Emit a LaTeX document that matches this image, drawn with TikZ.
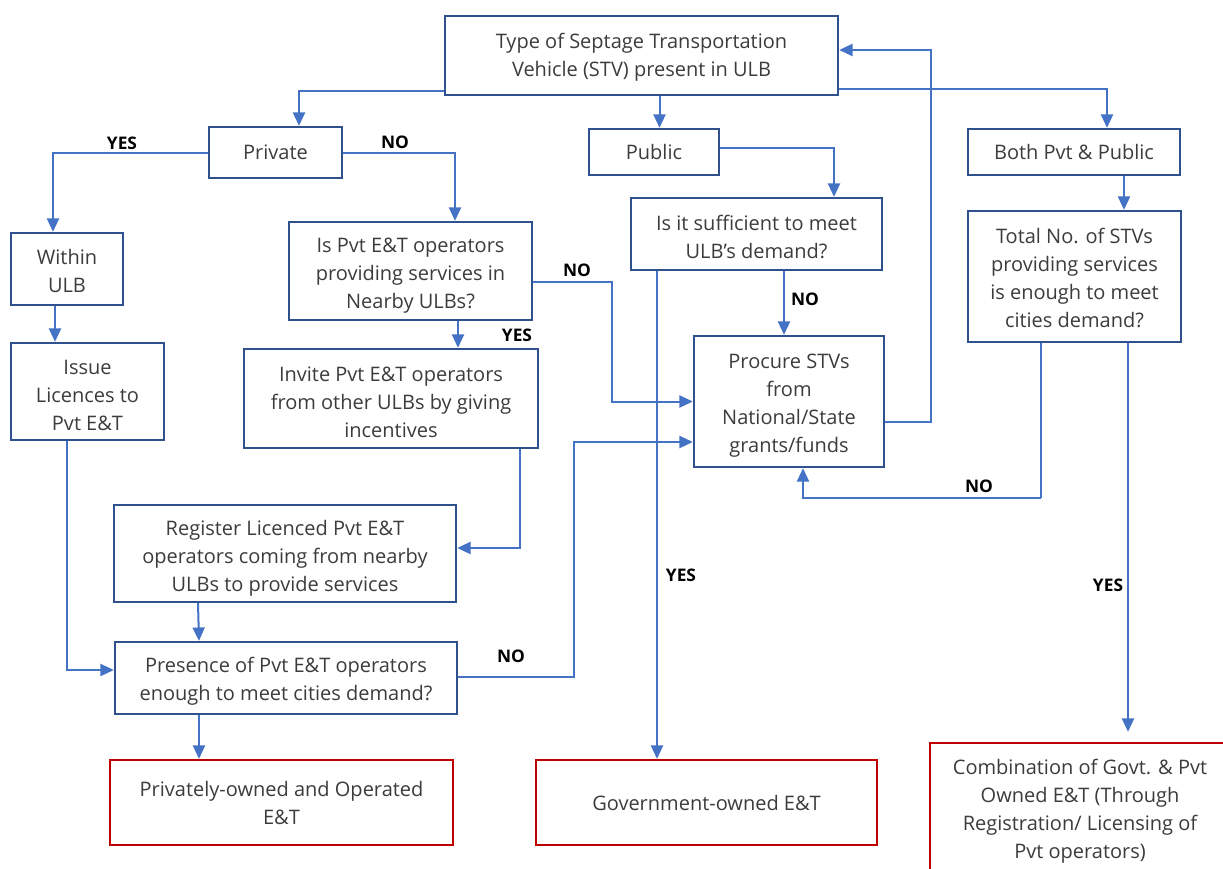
\documentclass[tikz,border=0pt]{standalone}
\usepackage{fontspec}
\setmainfont{Open Sans}
\usetikzlibrary{arrows.meta,calc}
\definecolor{lnblue}{RGB}{68,114,196}
\definecolor{bxblue}{RGB}{47,82,143}
\definecolor{bxred}{RGB}{192,0,0}
\definecolor{txt}{RGB}{60,60,60}
\newcommand\tpush[1]{\rule{0pt}{\dimexpr 11.4pt+#1pt\relax}}
\begin{document}
\begin{tikzpicture}[x=0.75pt,y=-0.75pt,
 box/.style={draw=bxblue,line width=1.8pt,inner sep=0pt,align=center,text=txt,font=\fontsize{15}{21}\selectfont},
 endbox/.style={box,draw=bxred},
 conn/.style={draw=lnblue,line width=1.5pt,-{Triangle[length=10pt,width=9pt]}},
 thin/.style={draw=lnblue,line width=0.8pt},
 lbl/.style={font=\fontsize{13}{15}\selectfont\bfseries,text=black,inner sep=0pt}]
\clip (0,0) rectangle (1223,868);
\fill[white] (0,0) rectangle (1223,868);

% boxes
\node[box,minimum width=294.75pt,minimum height=59.25pt] (top) at (641.5,55.5) {\tpush{2.5}Type of Septage Transportation\\Vehicle (STV) present in ULB};
\node[box,minimum width=99.75pt,minimum height=38.25pt] (private) at (275.5,152.5) {Private};
\node[box,minimum width=97.5pt,minimum height=34.5pt] (public) at (654,152) {Public};
\node[box,minimum width=159pt,minimum height=34.5pt] (both) at (1074,152) {Both Pvt \& Public};
\node[box,minimum width=84pt,minimum height=54pt] (within) at (67,269) {\tpush{2.5}Within\\ULB};
\node[box,minimum width=182.25pt,minimum height=73.5pt] (ispvt) at (410.5,271) {\tpush{7}Is Pvt E\&T operators\\providing services in\\Nearby ULBs?};
\node[box,minimum width=188.25pt,minimum height=54pt] (suff) at (756.5,234) {\tpush{4.5}Is it sufficient to meet\\ULB’s demand?};
\node[box,minimum width=159.75pt,minimum height=98.25pt] (total) at (1074.5,276.5) {\tpush{2.5}Total No. of STVs\\providing services\\is enough to meet\\cities demand?};
\node[box,minimum width=114.75pt,minimum height=72.75pt] (issue) at (87.5,391.5) {\tpush{4.5}Issue\\Licences to\\Pvt E\&T};
\node[box,minimum width=220.5pt,minimum height=74.25pt] (invite) at (391,398.5) {\tpush{5.5}Invite Pvt E\&T operators\\from other ULBs by giving\\incentives};
\node[box,minimum width=142.5pt,minimum height=98.25pt] (procure) at (789,401.5) {\tpush{5.5}Procure STVs\\from\\National/State\\grants/funds};
\node[box,minimum width=256.5pt,minimum height=72.75pt] (register) at (285,553.5) {\tpush{6.5}Register Licenced Pvt E\&T\\operators coming from nearby\\ULBs to provide services};
\node[box,minimum width=256.5pt,minimum height=54pt] (presence) at (286,678) {\tpush{5.5}Presence of Pvt E\&T operators\\enough to meet cities demand?};
\node[endbox,minimum width=257.25pt,minimum height=63.75pt] (privown) at (281.5,802.5) {Privately-owned and Operated\\E\&T};
\node[endbox,minimum width=255.75pt,minimum height=63.75pt] (govown) at (706.5,802.5) {Government-owned E\&T};
\node[endbox,minimum width=225pt,minimum height=99pt] (combo) at (1080,809) {\tpush{4}Combination of Govt. \& Pvt\\Owned E\&T (Through\\Registration/ Licensing of\\Pvt operators)};

% connectors
\draw[conn] ($(top.south west)+(0,-5)$) -| ($(private.north)+(23.5,0)$);
\draw[conn] ($(top.south)+(18,0)$) -- ($(public.north)+(5.5,0)$);
\draw[conn] ($(top.south east)+(0,-7)$) -| ($(both.north)+(33,0)$);
\draw[conn] ($(procure.east)+(0,20.5)$) -| ($(top.east)+(92,-5.5)$) -- ($(top.east)+(0,-5.5)$);
\draw[conn] (private.west) -| ($(within.north)+(-14,0)$);
\draw[conn] (private.east) -| ($(ispvt.north)+(44.5,0)$);
\draw[conn] ($(public.east)+(0,-4)$) -| ($(suff.north)+(77.5,0)$);
\draw[conn] ($(both.south)+(50,0)$) -- ($(total.north)+(49.5,0)$);
\draw[conn] ($(within.south)+(-12,0)$) -- ($(issue.north)+(-32.5,0)$);
\draw[conn] ($(ispvt.south)+(47.5,0)$) -- ($(invite.north)+(67,0)$);
\draw[conn] ($(ispvt.east)+(0,11)$) -| ($(procure.west)+(-81,0)$) -- (procure.west);
\draw[conn] ($(suff.south)+(27.5,0)$) -- ($(procure.north)+(-5,0)$);
\draw[conn] ($(suff.south)+(-99.5,0)$) -- ($(govown.north)+(-49.5,0)$);
\draw[conn] ($(invite.south)+(129,0)$) |- ($(register.east)+(0,-5.5)$);
\draw[conn] ($(register.south)+(-87,0)$) -- ($(presence.north)+(-87,0)$);
\draw[conn] ($(issue.south)+(-20.5,0)$) |- ($(presence.west)+(0,-8)$);
\draw[conn] ($(presence.east)+(0,-1)$) -| ($(procure.west)+(-119,40.5)$) -- ($(procure.west)+(0,40.5)$);
\draw[conn] ($(presence.south)+(-87,0)$) -- ($(privown.north)+(-82.5,0)$);
\draw[thin] ($(total.south)+(-33.5,0)$) -- ($(total.south)+(-33.5,155)$) coordinate (nc);
\draw[conn] (nc) -| ($(procure.south)+(14,0)$);
\draw[conn] ($(total.south)+(53.5,0)$) -- ($(combo.north)+(48,-10)$);

% labels
\node[lbl] (l1) at (122,143) {YES};
\node[lbl] (l2) at (395,142) {NO};
\node[lbl] (l3) at (577,270) {NO};
\node[lbl] (l4) at (517,335) {YES};
\node[lbl] (l5) at (805,299) {NO};
\node[lbl] (l6) at (681,575) {YES};
\node[lbl] (l7) at (979,486) {NO};
\node[lbl] (l8) at (1108,585) {YES};
\node[lbl] (l9) at (511,656) {NO};
\end{tikzpicture}
\end{document}
